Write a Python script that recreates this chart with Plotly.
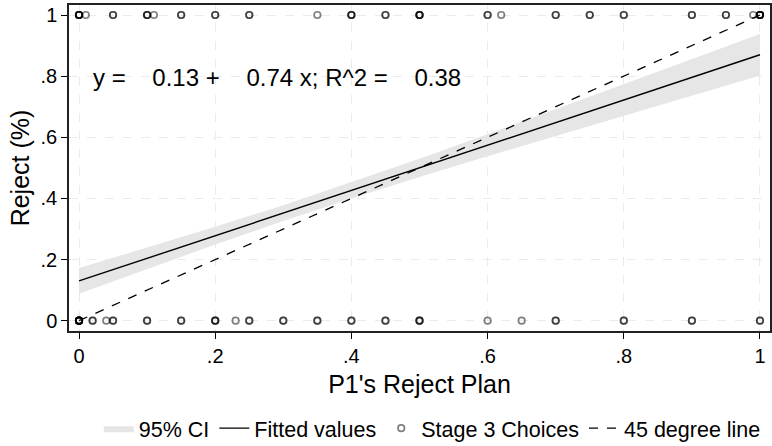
import plotly.graph_objects as go

# Stage 3 choices: P1's reject plan (x) vs. observed reject decision (y), with counts per point
top_x = [0.0, 0.01, 0.05, 0.10, 0.11, 0.15, 0.20, 0.25, 0.35, 0.40, 0.45, 0.50,
         0.60, 0.62, 0.70, 0.75, 0.80, 0.90, 0.95, 0.99, 1.0]
top_n = [5, 1, 2, 3, 1, 2, 2, 2, 1, 3, 2, 4, 2, 1, 2, 2, 2, 2, 2, 1, 6]
bot_x = [0.0, 0.02, 0.04, 0.05, 0.10, 0.15, 0.20, 0.23, 0.25, 0.30, 0.35, 0.40,
         0.45, 0.50, 0.60, 0.65, 0.70, 0.80, 0.90, 1.0]
bot_n = [8, 2, 1, 2, 2, 2, 3, 1, 2, 2, 2, 2, 2, 3, 1, 1, 2, 2, 2, 2]

# Linear fit summary
intercept = 0.13
slope = 0.74
r2 = 0.38

# 95% confidence band of the fit
ci_x = [0.0, 0.2, 0.3, 0.4, 0.5, 0.6, 0.8, 1.0]
ci_lo = [0.088, 0.249, 0.326, 0.400, 0.470, 0.538, 0.671, 0.802]
ci_hi = [0.172, 0.307, 0.378, 0.453, 0.530, 0.610, 0.773, 0.938]

ticks = [0, 0.2, 0.4, 0.6, 0.8, 1.0]
tick_text = ["0", ".2", ".4", ".6", ".8", "1"]

FONT = "Liberation Sans, Arial, Helvetica, sans-serif"

pts_x, pts_y = [], []
for xs, ns, yv in ((top_x, top_n, 1.0), (bot_x, bot_n, 0.0)):
    for x, n in zip(xs, ns):
        pts_x += [x] * n
        pts_y += [yv] * n

fig = go.Figure()

fig.add_trace(go.Scatter(
    x=ci_x + ci_x[::-1], y=ci_hi + ci_lo[::-1],
    fill="toself", fillcolor="#e6e6e6", line=dict(width=0),
    mode="lines", name="95% CI", hoverinfo="skip"))

fit_x = [0.0, 1.0]
fig.add_trace(go.Scatter(
    x=fit_x, y=[intercept + slope * v for v in fit_x],
    mode="lines", line=dict(color="black", width=1.4), name="Fitted values"))

fig.add_trace(go.Scatter(
    x=pts_x, y=pts_y, mode="markers", name="Stage 3 Choices",
    marker=dict(symbol="circle-open", size=6.5, color="rgba(0,0,0,0.5)",
                line=dict(width=1.7, color="rgba(0,0,0,0.5)"))))

fig.add_trace(go.Scatter(
    x=[0, 1], y=[0, 1], mode="lines",
    line=dict(color="black", width=1.3, dash="dash"), name="45 degree line"))

nb = "\u00a0"
label = f"y ={nb*4}{intercept:.2f} +{nb*4}{slope:.2f} x; R^2 ={nb*4}{r2:.2f}"
fig.add_annotation(x=0.0176, y=0.797, xref="x", yref="y", text=label,
                   showarrow=False, xanchor="left", yanchor="middle",
                   font=dict(size=24, color="black", family=FONT))

axis_common = dict(
    tickvals=ticks, ticktext=tick_text, ticks="outside", ticklen=6,
    tickwidth=1, tickcolor="black", showline=True, linecolor="#222",
    linewidth=1.5, mirror=True, showgrid=True, gridcolor="#ebebeb",
    griddash="dash", gridwidth=1, zeroline=False,
    tickfont=dict(size=20, color="black", family=FONT),
)

fig.update_layout(
    width=772, height=446,
    margin=dict(l=69, r=2, t=5, b=115, autoexpand=False),
    paper_bgcolor="white", plot_bgcolor="white",
    font=dict(family=FONT, color="black"),
    xaxis=dict(range=[-0.0147, 1.0147],
               title=dict(text="P1's Reject Plan", font=dict(size=25), standoff=10),
               **axis_common),
    yaxis=dict(range=[-0.0337, 1.0327],
               title=dict(text="Reject (%)", font=dict(size=25), standoff=4),
               **axis_common),
    legend=dict(orientation="h", xref="container", yref="container",
                x=0.56, xanchor="center", y=0.04, yanchor="middle",
                font=dict(size=21.5), itemwidth=30, bgcolor="rgba(0,0,0,0)"),
    showlegend=True,
)

fig.write_html("out.html")
